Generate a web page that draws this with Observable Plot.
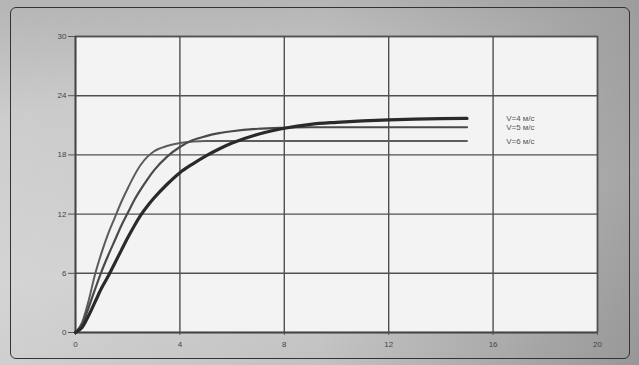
<!DOCTYPE html>
<html>
<head>
<meta charset="utf-8">
<script src="https://cdn.jsdelivr.net/npm/d3@7"></script>
<script src="https://cdn.jsdelivr.net/npm/@observablehq/plot@0.6"></script>
<style>
  html, body { margin: 0; padding: 0; background: #fff; }
  #wrap {
    position: relative; width: 639px; height: 365px; overflow: hidden;
    background: linear-gradient(170deg, #a8a8a8 0%, #c4c4c4 25%, #cdcdcd 60%, #bdbdbd 100%);
  }
  #shade {
    position: absolute; inset: 0;
    background: linear-gradient(90deg, rgba(255,255,255,0.15) 0%, rgba(0,0,0,0) 50%, rgba(0,0,0,0.2) 100%);
  }
  #frame {
    position: absolute; left: 10px; top: 7px; width: 620px; height: 352px;
    border: 1px solid #333; border-radius: 6px; box-sizing: border-box;
  }
  #chart { position: absolute; left: 0; top: 0; }
</style>
</head>
<body>
<div id="wrap"><div id="shade"></div><div id="frame"></div><div id="chart"></div></div>
<script>
const times = [0,0.25,0.5,0.75,1,1.25,1.5,1.75,2,2.25,2.5,2.75,3,3.5,4,4.5,5,5.5,6,7,8,9,10,11,12,13,14,15];
const v4 = [0,0.5,1.7,3.1,4.5,5.7,7.0,8.3,9.6,10.8,11.9,12.8,13.6,15.0,16.2,17.1,17.9,18.6,19.2,20.1,20.7,21.1,21.3,21.45,21.55,21.62,21.67,21.7];
const v5 = [0,0.8,2.5,4.4,6.2,7.8,9.3,10.8,12.1,13.4,14.5,15.5,16.4,17.8,18.8,19.5,19.9,20.2,20.4,20.65,20.75,20.8,20.8,20.8,20.8,20.8,20.8,20.8];
const v6 = [0,1.0,3.2,5.9,8.1,10.0,11.6,13.2,14.6,15.9,17.0,17.8,18.35,18.9,19.2,19.35,19.4,19.4,19.4,19.4,19.4,19.4,19.4,19.4,19.4,19.4,19.4,19.4];
const seriesNames = ["V=4 м/с", "V=5 м/с", "V=6 м/с"];
const xTicks = [0,4,8,12,16,20];
const yTicks = [0,6,12,18,24,30];

const allSeries = [v4, v5, v6];
const rows = [];
allSeries.forEach((vals, i) => times.forEach((t, j) => rows.push({t, v: vals[j], s: seriesNames[i]})));
const ends = allSeries.map((vals, i) => ({s: seriesNames[i], v: vals[vals.length - 1]}));

const styles = {
  "V=4 м/с": {stroke: "#2a2a2a", width: 3.2},
  "V=5 м/с": {stroke: "#4a4a4a", width: 2.2},
  "V=6 м/с": {stroke: "#5c5c5c", width: 2.0}
};

const plot = Plot.plot({
  width: 639, height: 365,
  marginLeft: 75, marginRight: 42, marginTop: 36, marginBottom: 33,
  style: {background: "transparent", fontFamily: "Liberation Sans, Arial, sans-serif", fontSize: "8px", color: "#444"},
  x: {domain: [0, 20], ticks: xTicks, label: null},
  y: {domain: [0, 30], ticks: yTicks, label: null},
  marks: [
    Plot.frame({fill: "#f3f3f3", stroke: "#555", strokeWidth: 1.5}),
    Plot.gridX(xTicks, {stroke: "#505050", strokeOpacity: 1, strokeWidth: 1.4}),
    Plot.gridY(yTicks, {stroke: "#505050", strokeOpacity: 1, strokeWidth: 1.4}),
    Plot.axisY(yTicks, {tickSize: 7, tickPadding: 2, stroke: "#555", fill: "#444", fontSize: 8}),
    Plot.axisX(xTicks, {tickSize: 3, tickPadding: 6, stroke: "#555", fill: "#444", fontSize: 8}),
    Plot.ruleX([0], {stroke: "#444", strokeWidth: 1.5}),
    Plot.ruleY([0], {stroke: "#444", strokeWidth: 1.5}),
    ...seriesNames.slice().reverse().map(name => Plot.line(rows.filter(r => r.s === name), {
      x: "t", y: "v", curve: "monotone-x",
      stroke: styles[name].stroke, strokeWidth: styles[name].width
    })),
    Plot.text(ends, {x: () => 16.5, y: "v", text: "s", textAnchor: "start", fill: "#555", fontSize: 8})
  ]
});
document.getElementById("chart").appendChild(plot);
</script>
</body>
</html>
